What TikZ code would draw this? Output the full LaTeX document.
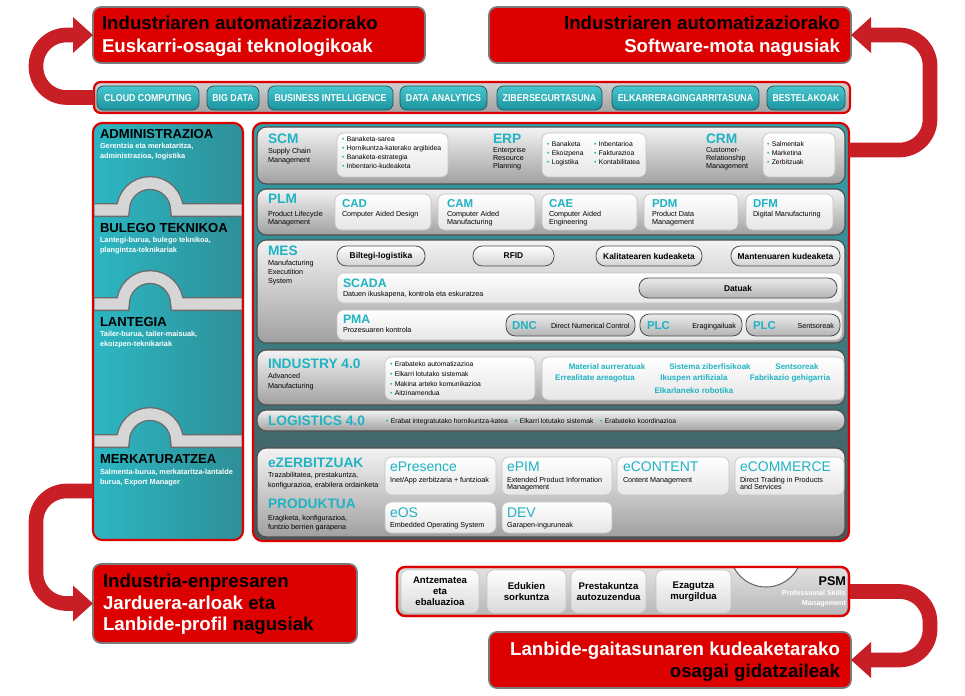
\documentclass[tikz,border=0pt]{standalone}
\usepackage{fontspec}
\setmainfont{Liberation Sans}
\newfontfamily\narf[FakeStretch=0.88]{Liberation Sans}
\usetikzlibrary{arrows.meta,calc}

\definecolor{boxred}{HTML}{DD0000}
\definecolor{arrred}{HTML}{C81F26}
\definecolor{bordgray}{HTML}{7A7A7A}
\definecolor{tealT}{HTML}{1FB3C3}
\definecolor{tealA}{HTML}{48C6CE}
\definecolor{tealB}{HTML}{1A939E}
\definecolor{btnLine}{HTML}{2E5358}
\definecolor{panelTop}{HTML}{2EA3AD}
\definecolor{panelBot}{HTML}{4A5558}
\definecolor{colL}{HTML}{2CB7C3}
\definecolor{colR}{HTML}{2E8F97}
\definecolor{rowTop}{HTML}{F3F3F3}
\definecolor{rowBot}{HTML}{A0A0A0}
\definecolor{rowLine}{HTML}{4D4D4D}
\definecolor{wBot}{HTML}{E6E6E6}
\definecolor{wLine}{HTML}{C4C4C4}
\definecolor{mBot}{HTML}{D2D2D2}
\definecolor{gTop}{HTML}{ECECEC}
\definecolor{gBot}{HTML}{B3B3B3}
\definecolor{barTop}{HTML}{D0D0D0}
\definecolor{barBot}{HTML}{A0A0A0}
\definecolor{psmTop}{HTML}{E2E2E2}
\definecolor{psmBot}{HTML}{B6B6B6}
\definecolor{pBot}{HTML}{D9D9D9}
\definecolor{bandG}{HTML}{D6D6D6}
\definecolor{bandL}{HTML}{6A6A6A}

\newcommand\fsz[1]{\fontsize{#1}{#1}\selectfont}
\newcommand\bx[7]{\node[#1,minimum width={(#5-#3)*0.75pt},minimum height={(#6-#4)*0.75pt}] (#2) at ({(#3+#5)/2},{(#4+#6)/2}) {#7};}
\newcommand\tx[4][]{\node[base,anchor=base west,#1] (#2) at (#3) {#4};}
\newcommand\bu{{\color{tealT}\textbullet}\hspace{1.8pt}}

\tikzset{
 base/.style={inner sep=0pt,outer sep=0pt},
 redbox/.style={base,rounded corners=6pt,fill=boxred,draw=bordgray,line width=1.3pt},
 techbar/.style={base,rounded corners=5pt,draw=boxred,line width=1.6pt,top color=barTop,bottom color=barBot},
 tbtn/.style={base,rounded corners=5pt,draw=btnLine,line width=0.6pt,top color=tealA,bottom color=tealB,text=white,font=\narf\bfseries\fsz{7.5}},
 leftcol/.style={base,rounded corners=7pt,draw=boxred,line width=1.6pt,left color=colL,right color=colR},
 mainpanel/.style={base,rounded corners=7pt,draw=boxred,line width=1.6pt,top color=panelTop,bottom color=panelBot},
 rowbox/.style={base,rounded corners=7pt,draw=rowLine,line width=0.8pt,top color=rowTop,bottom color=rowBot},
 wbox/.style={base,rounded corners=5pt,draw=wLine,line width=0.5pt,top color=white,bottom color=wBot},
 mbtn/.style={base,rounded corners=7pt,draw=rowLine,line width=0.6pt,top color=white,bottom color=mBot,font=\bfseries\fsz{6.3}},
 gbtn/.style={base,rounded corners=7pt,draw=rowLine,line width=0.6pt,top color=gTop,bottom color=gBot,font=\bfseries\fsz{6.3}},
 psmbar/.style={base,rounded corners=6pt,draw=boxred,line width=1.6pt,top color=psmTop,bottom color=psmBot},
 pbox/.style={base,rounded corners=5pt,draw=wLine,line width=0.5pt,top color=white,bottom color=pBot,font=\bfseries\fontsize{7.2}{8.4}\selectfont,align=center},
 bigarrow/.style={draw=arrred,line width=11pt,rounded corners=23pt,-{Triangle[width=26pt,length=15pt]}},
 ttl/.style={font=\bfseries\fsz{14}},
 ltitle/.style={font=\bfseries\fsz{9.8}},
 lsub/.style={font=\bfseries\fsz{5.5},text=white},
 rt/.style={font=\bfseries\fsz{10.3},text=tealT},
 rtr/.style={font=\bfseries\fsz{10.3},text=tealT},
 rs/.style={font=\fsz{5.4}},
 bul/.style={font=\fsz{5.1}},
 bt/.style={font=\bfseries\fsz{8.6},text=tealT},
 et/.style={font=\fsz{10.5},text=tealT},
 tw/.style={base,anchor=base,font=\bfseries\fsz{6},text=tealT},
}

\begin{document}
\begin{tikzpicture}[x=0.75pt,y=-0.75pt]
\useasboundingbox (0,0) rectangle (965,696);

% ---------- main containers
\bx{redbox}{tl}{93}{7}{425}{63}{}
\bx{redbox}{tr}{489}{7}{851}{63}{}
\bx{techbar}{techbar}{94}{82}{850}{113}{}
\bx{leftcol}{leftcol}{93}{123}{243}{540}{}
\bx{mainpanel}{mainpanel}{253}{123}{849}{541}{}
\bx{psmbar}{psm}{397}{567}{849}{616}{}
\bx{redbox}{bl}{93}{564}{357}{643}{}
\bx{redbox}{br}{489}{632}{851}{688}{}

% ---------- arrows
\coordinate (lcout) at (93,491);
\coordinate (mpout) at (849,150);
\draw[bigarrow] (techbar.west) -| (36,35) -- (tl.west);
\draw[bigarrow] (mpout) -| (930,35) -- (tr.east);
\draw[bigarrow] (lcout) -| (36,603.5) -- (bl.west);
\draw[bigarrow] (psm.east) -| (930,660) -- (br.east);

% ---------- red box texts
\tx[ttl]{tlA}{102,29}{Industriaren automatizaziorako}
\tx[ttl,text=white]{tlB}{102,52}{Euskarri-osagai teknologikoak}
\tx[ttl,anchor=base east]{trA}{840,29}{Industriaren automatizaziorako}
\tx[ttl,text=white,anchor=base east]{trB}{840,52}{Software-mota nagusiak}
\tx[ttl]{blA}{103,587}{Industria-enpresaren}
\tx[ttl,text=white]{blB}{103,609}{Jarduera-arloak \textcolor{black}{eta}}
\tx[ttl,text=white]{blC}{103,630}{Lanbide-profil \textcolor{black}{nagusiak}}
\tx[ttl,text=white,anchor=base east]{brA}{840,655}{Lanbide-gaitasunaren kudeaketarako}
\tx[ttl,anchor=base east]{brB}{840,677}{osagai gidatzaileak}

% ---------- tech bar buttons
\bx{tbtn}{b1}{97}{86}{199}{110}{CLOUD COMPUTING}
\bx{tbtn}{b2}{207}{86}{259}{110}{BIG DATA}
\bx{tbtn}{b3}{268}{86}{393}{110}{BUSINESS INTELLIGENCE}
\bx{tbtn}{b4}{400}{86}{487}{110}{DATA ANALYTICS}
\bx{tbtn}{b5}{497}{86}{602}{110}{ZIBERSEGURTASUNA}
\bx{tbtn}{b6}{612}{86}{759}{110}{ELKARRERAGINGARRITASUNA}
\bx{tbtn}{b7}{767}{86}{845}{110}{BESTELAKOAK}

% ---------- left column bands
\begin{scope}
\clip[rounded corners=6pt] (94.5,124.5) rectangle (241.5,538.5);
\foreach \yy in {210,304,441}{
  \draw[bandL,line width=10.5pt] (90,\yy) -- (123,\yy) arc[start angle=180,end angle=360,radius=27] -- (250,\yy);
  \draw[bandG,line width=8.5pt] (90,\yy) -- (123,\yy) arc[start angle=180,end angle=360,radius=27] -- (250,\yy);
}
\end{scope}
\tx[ltitle]{l1}{100,138}{ADMINISTRAZIOA}
\tx[lsub]{l1a}{100,148}{Gerentzia eta merkataritza,}
\tx[lsub]{l1b}{100,158}{administrazioa, logistika}
\tx[ltitle]{l2}{100,232}{BULEGO TEKNIKOA}
\tx[lsub]{l2a}{100,242}{Lantegi-burua, bulego teknikoa,}
\tx[lsub]{l2b}{100,252}{plangintza-teknikariak}
\tx[ltitle]{l3}{100,326}{LANTEGIA}
\tx[lsub]{l3a}{100,336}{Tailer-burua, tailer-maisuak,}
\tx[lsub]{l3b}{100,346}{ekoizpen-teknikariak}
\tx[ltitle]{l4}{100,463}{MERKATURATZEA}
\tx[lsub]{l4a}{100,474}{Salmenta-burua, merkataritza-lantalde}
\tx[lsub]{l4b}{100,484}{burua, Export Manager}

% ---------- rows
\bx{rowbox}{rSCM}{257}{127}{845}{184}{}
\bx{rowbox}{rPLM}{257}{189}{845}{235}{}
\bx{rowbox}{rMES}{257}{240}{845}{343}{}
\bx{rowbox}{rIND}{257}{350}{845}{405}{}
\bx{rowbox}{rLOG}{257}{410}{845}{431}{}
\bx{rowbox}{rEZ}{257}{448}{845}{537}{}

% SCM / ERP / CRM
\tx[rt]{scmT}{268,143}{SCM}
\tx[rs]{scmA}{268,153}{Supply Chain}
\tx[rs]{scmB}{268,162}{Management}
\bx{wbox}{scmL}{337}{133}{448}{177}{}
\tx[bul]{scm1}{342,141}{\bu Banaketa-sarea}
\tx[bul]{scm2}{342,150}{\bu Hornikuntza-katerako argibidea}
\tx[bul]{scm3}{342,159}{\bu Banaketa-estrategia}
\tx[bul]{scm4}{342,168}{\bu Inbentario-kudeaketa}
\tx[rt]{erpT}{493,143}{ERP}
\tx[rs]{erpA}{493,152}{Enterprise}
\tx[rs]{erpB}{493,160}{Resource}
\tx[rs]{erpC}{493,168}{Planning}
\bx{wbox}{erpL}{542}{133}{646}{177}{}
\tx[bul]{erp1}{547,146}{\bu Banaketa}
\tx[bul]{erp2}{547,155}{\bu Ekoizpena}
\tx[bul]{erp3}{547,164}{\bu Logistika}
\tx[bul]{erp4}{594,146}{\bu Inbentarioa}
\tx[bul]{erp5}{594,155}{\bu Fakturazioa}
\tx[bul]{erp6}{594,164}{\bu Kontabilitatea}
\tx[rt]{crmT}{706,143}{CRM}
\tx[rs]{crmA}{706,152}{Customer-}
\tx[rs]{crmB}{706,160}{Relationship}
\tx[rs]{crmC}{706,168}{Management}
\bx{wbox}{crmL}{763}{133}{835}{177}{}
\tx[bul]{crm1}{767,146}{\bu Salmentak}
\tx[bul]{crm2}{767,155}{\bu Marketina}
\tx[bul]{crm3}{767,164}{\bu Zerbitzuak}

% PLM
\tx[rt]{plmT}{268,203}{PLM}
\tx[rs]{plmA}{268,216}{Product Lifecycle}
\tx[rs]{plmB}{268,224}{Management}
\bx{wbox}{cad}{335}{194}{431}{230}{}
\bx{wbox}{cam}{438}{194}{535}{230}{}
\bx{wbox}{cae}{542}{194}{637}{230}{}
\bx{wbox}{pdm}{644}{194}{738}{230}{}
\bx{wbox}{dfm}{746}{194}{833}{230}{}
\tx[bt]{cadT}{342,207}{CAD}
\tx[rs]{cadA}{342,216}{Computer Aided Design}
\tx[bt]{camT}{447,207}{CAM}
\tx[rs]{camA}{447,216}{Computer Aided}
\tx[rs]{camB}{447,224}{Manufacturing}
\tx[bt]{caeT}{549,207}{CAE}
\tx[rs]{caeA}{549,216}{Computer Aided}
\tx[rs]{caeB}{549,224}{Engineering}
\tx[bt]{pdmT}{652,207}{PDM}
\tx[rs]{pdmA}{652,216}{Product Data}
\tx[rs]{pdmB}{652,224}{Management}
\tx[bt]{dfmT}{753,207}{DFM}
\tx[rs]{dfmA}{753,216}{Digital Manufacturing}

% MES
\tx[rt]{mesT}{268,255}{MES}
\tx[rs]{mesA}{268,265}{Manufacturing}
\tx[rs]{mesB}{268,274}{Executition}
\tx[rs]{mesC}{268,283}{System}
\bx{mbtn}{m1}{337}{246}{425}{266}{Biltegi-logistika}
\bx{mbtn}{m2}{473}{246}{554}{266}{RFID}
\bx{mbtn}{m3}{596}{246}{702}{266}{Kalitatearen kudeaketa}
\bx{mbtn}{m4}{731}{246}{840}{266}{Mantenuaren kudeaketa}
\bx{wbox}{scada}{337}{273}{842}{303}{}
\tx[font=\bfseries\fsz{9.2},text=tealT]{scT}{343,287}{SCADA}
\tx[rs]{scA}{343,296}{Datuen ikuskapena, kontrola eta eskuratzea}
\bx{gbtn}{datuak}{639}{278}{837}{298}{Datuak}
\bx{wbox}{pma}{337}{310}{842}{340}{}
\tx[font=\bfseries\fsz{9.2},text=tealT]{pmT}{343,323}{PMA}
\tx[rs]{pmA}{343,332}{Prozesuaren kontrola}
\bx{gbtn}{dnc}{506}{314}{635}{336}{}
\bx{gbtn}{plc1}{640}{314}{742}{336}{}
\bx{gbtn}{plc2}{746}{314}{840}{336}{}
\tx[bt]{dncT}{512,329}{DNC}
\tx[rs]{dncA}{551,328}{Direct Numerical Control}
\tx[bt]{plc1T}{647,329}{PLC}
\tx[rs,anchor=base east]{plc1A}{736,328}{Eragingailuak}
\tx[bt]{plc2T}{753,329}{PLC}
\tx[rs,anchor=base east]{plc2A}{834,328}{Sentsoreak}

% INDUSTRY 4.0
\tx[rtr]{indT}{268,368}{INDUSTRY 4.0}
\tx[rs]{indA}{268,378}{Advanced}
\tx[rs]{indB}{268,388}{Manufacturing}
\bx{wbox}{indL}{385}{357}{535}{400}{}
\tx[bul]{ind1}{390,366}{\bu Erabateko automatizazioa}
\tx[bul]{ind2}{390,376}{\bu Elkarri lotutako sistemak}
\tx[bul]{ind3}{390,386}{\bu Makina arteko komunikazioa}
\tx[bul]{ind4}{390,395}{\bu Aitzinamendua}
\bx{wbox}{indR}{542}{357}{844}{400}{}
\node[tw] (w1) at (607,369) {Material aurreratuak};
\node[tw] (w2) at (710,369) {Sistema ziberfisikoak};
\node[tw] (w3) at (797,369) {Sentsoreak};
\node[tw] (w4) at (595,380) {Errealitate areagotua};
\node[tw] (w5) at (694,380) {Ikuspen artifiziala};
\node[tw] (w6) at (790,380) {Fabrikazio gehigarria};
\node[tw] (w7) at (694,393) {Elkarlaneko robotika};

% LOGISTICS 4.0
\tx[rtr]{logT}{268,425}{LOGISTICS 4.0}
\tx[bul]{log1}{386,423}{\bu Erabat integratutako hornikuntza-katea}
\tx[bul]{log2}{515,423}{\bu Elkarri lotutako sistemak}
\tx[bul]{log3}{600,423}{\bu Erabateko koordinazioa}

% eZERBITZUAK
\tx[rt]{ezT}{268,467}{eZERBITZUAK}
\tx[rs]{ezA}{268,477}{Trazabilitatea, prestakuntza,}
\tx[rs]{ezB}{268,487}{konfigurazioa, erabilera ordainketa}
\tx[rt]{prT}{268,508}{PRODUKTUA}
\tx[rs]{prA}{268,520}{Eragiketa, konfigurazioa,}
\tx[rs]{prB}{268,529}{funtzio berrien garapena}
\bx{wbox}{epres}{385}{457}{496}{495}{}
\bx{wbox}{epim}{502}{457}{612}{495}{}
\bx{wbox}{econt}{617}{457}{729}{495}{}
\bx{wbox}{ecom}{735}{457}{844}{495}{}
\bx{wbox}{eos}{385}{502}{496}{533}{}
\bx{wbox}{dev}{502}{502}{612}{533}{}
\tx[et]{epT}{390,471}{ePresence}
\tx[rs]{epA}{390,482}{Inet/App zerbitzaria + funtzioak}
\tx[et]{eiT}{507,471}{ePIM}
\tx[rs]{eiA}{507,482}{Extended Product Information}
\tx[rs]{eiB}{507,489}{Management}
\tx[et]{ecT}{623,471}{eCONTENT}
\tx[rs]{ecA}{623,482}{Content Management}
\tx[et]{emT}{740,471}{eCOMMERCE}
\tx[rs]{emA}{740,482}{Direct Trading in Products}
\tx[rs]{emB}{740,489}{and Services}
\tx[et]{eoT}{390,517}{eOS}
\tx[rs]{eoA}{390,527}{Embedded Operating System}
\tx[et]{dvT}{507,517}{DEV}
\tx[rs]{dvA}{507,527}{Garapen-inguruneak}

% ---------- PSM bar
\begin{scope}
\clip[rounded corners=6pt] (397,567) rectangle (849,616);
\filldraw[fill=white,draw=bandL,line width=0.8pt] (766,551) circle[radius=36];
\end{scope}
\draw[boxred,line width=1.6pt,rounded corners=6pt] (psm.north west) rectangle (psm.south east);
\bx{pbox}{p1}{401}{570}{479}{613}{Antzematea\\eta\\ebaluazioa}
\bx{pbox}{p2}{487}{570}{566}{613}{Edukien\\sorkuntza}
\bx{pbox}{p3}{571}{570}{646}{613}{Prestakuntza\\autozuzendua}
\bx{pbox}{p4}{656}{570}{731}{613}{Ezagutza\\murgildua}
\tx[font=\bfseries\fsz{9.5},anchor=base east]{psmT}{846,585}{PSM}
\tx[font=\bfseries\fsz{5.4},text=white,anchor=base east]{psmA}{846,595}{Professional Skills}
\tx[font=\bfseries\fsz{5.4},text=white,anchor=base east]{psmB}{846,605}{Management}
\end{tikzpicture}
\end{document}
